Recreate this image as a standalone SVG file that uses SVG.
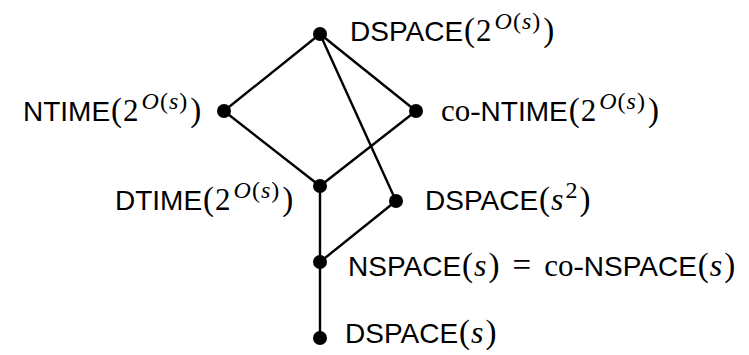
<svg xmlns="http://www.w3.org/2000/svg" width="749" height="355" viewBox="0 0 749 355">
<style>
.lbl{font-family:"Liberation Sans",Arial,sans-serif;font-size:28px;fill:#000}
.m{font-family:"Liberation Serif","Times New Roman",serif;font-size:31px;font-style:normal}
.p{font-family:"Liberation Serif","Times New Roman",serif;font-size:33px;font-style:normal}
.i{font-family:"Liberation Serif","Times New Roman",serif;font-style:italic;font-size:32px}
.sm{font-family:"Liberation Serif","Times New Roman",serif;font-size:24px;font-style:normal}
.si{font-family:"Liberation Serif","Times New Roman",serif;font-size:24px;font-style:italic}
.edge{stroke:#000;stroke-width:2.4;fill:none}
.dot{fill:#000}
</style>
<rect width="749" height="355" fill="#fff"/>
<g id="connectors">
<line class="edge" x1="320" y1="34" x2="224" y2="111"/>
<line class="edge" x1="320" y1="34" x2="416" y2="111"/>
<line class="edge" x1="320" y1="34" x2="396" y2="201"/>
<line class="edge" x1="224" y1="111" x2="320" y2="186"/>
<line class="edge" x1="416" y1="111" x2="320" y2="186"/>
<line class="edge" x1="320" y1="186" x2="320" y2="262"/>
<line class="edge" x1="396" y1="201" x2="320" y2="262"/>
<line class="edge" x1="320" y1="262" x2="320" y2="338"/>
</g>
<g id="n-dspace-exp">
<circle class="dot" cx="320" cy="34" r="7"/>
<text class="lbl" x="350" y="41">DSPACE<tspan class="p" dx="1">(</tspan><tspan class="m" dx="1">2</tspan><tspan class="si" dx="3" dy="-12">O</tspan><tspan class="sm" dx="1">(</tspan><tspan class="si" dx="1">s</tspan><tspan class="sm" dx="1">)</tspan><tspan class="p" dx="3" dy="12">)</tspan></text>
</g>
<g id="n-ntime">
<circle class="dot" cx="224" cy="111" r="7"/>
<text class="lbl" x="23" y="121">NTIME<tspan class="p" dx="1">(</tspan><tspan class="m" dx="1">2</tspan><tspan class="si" dx="3" dy="-12">O</tspan><tspan class="sm" dx="1">(</tspan><tspan class="si" dx="1">s</tspan><tspan class="sm" dx="1">)</tspan><tspan class="p" dx="3" dy="12">)</tspan></text>
</g>
<g id="n-contime">
<circle class="dot" cx="416" cy="111" r="7"/>
<text class="lbl" x="441" y="121"><tspan class="m">co-</tspan>NTIME<tspan class="p" dx="1">(</tspan><tspan class="m" dx="1">2</tspan><tspan class="si" dx="3" dy="-12">O</tspan><tspan class="sm" dx="1">(</tspan><tspan class="si" dx="1">s</tspan><tspan class="sm" dx="1">)</tspan><tspan class="p" dx="3" dy="12">)</tspan></text>
</g>
<g id="n-dtime">
<circle class="dot" cx="320" cy="186" r="7"/>
<text class="lbl" x="115" y="210">DTIME<tspan class="p" dx="1">(</tspan><tspan class="m" dx="1">2</tspan><tspan class="si" dx="3" dy="-12">O</tspan><tspan class="sm" dx="1">(</tspan><tspan class="si" dx="1">s</tspan><tspan class="sm" dx="1">)</tspan><tspan class="p" dx="3" dy="12">)</tspan></text>
</g>
<g id="n-dspace-s2">
<circle class="dot" cx="396" cy="201" r="7"/>
<text class="lbl" x="425" y="210">DSPACE<tspan class="p" dx="1">(</tspan><tspan class="i" dx="1">s</tspan><tspan class="sm" dx="2" dy="-12">2</tspan><tspan class="p" dx="2" dy="12">)</tspan></text>
</g>
<g id="n-nspace">
<circle class="dot" cx="320" cy="262" r="7"/>
<text class="lbl" x="348" y="276">NSPACE<tspan class="p" dx="1">(</tspan><tspan class="i" dx="1">s</tspan><tspan class="p" dx="2">)</tspan><tspan class="p" dx="13">=</tspan><tspan class="m" dx="13">co-</tspan>NSPACE<tspan class="p" dx="1">(</tspan><tspan class="i" dx="1">s</tspan><tspan class="p" dx="2">)</tspan></text>
</g>
<g id="n-dspace-s">
<circle class="dot" cx="320" cy="338" r="7"/>
<text class="lbl" x="345" y="343">DSPACE<tspan class="p" dx="1">(</tspan><tspan class="i" dx="1">s</tspan><tspan class="p" dx="2">)</tspan></text>
</g>
</svg>
